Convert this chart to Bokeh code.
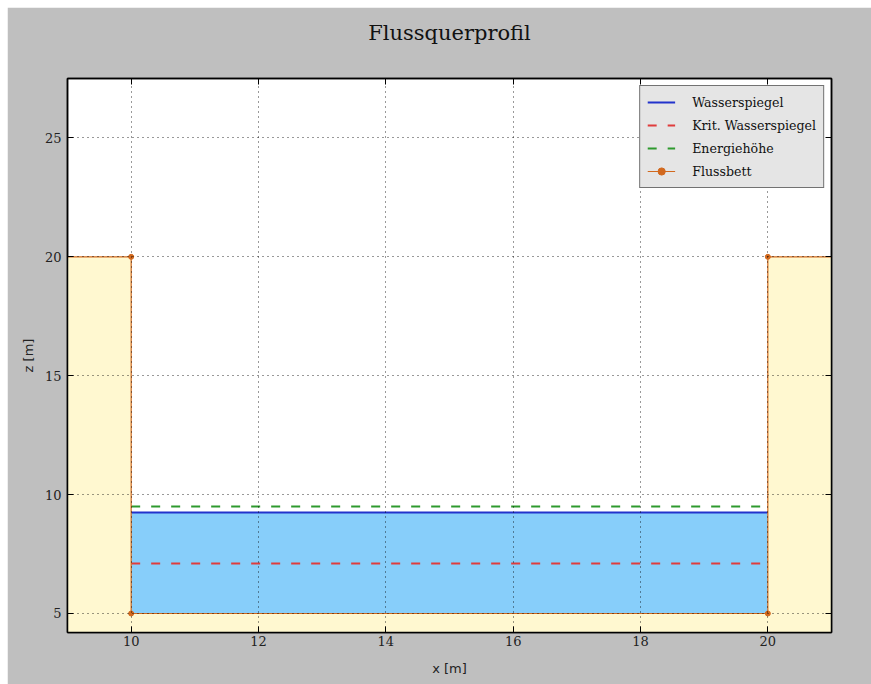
from bokeh.plotting import figure
from bokeh.models import Range1d, LinearAxis, FixedTicker, Legend, LegendItem
from bokeh.embed import file_html
from bokeh.resources import INLINE

# data
bed_x = [9, 10, 10, 20, 20, 21]
bed_z = [20, 20, 5, 5, 20, 20]
bed_marker_x = [10, 10, 20, 20]
bed_marker_z = [20, 5, 5, 20]
channel_x = [10, 20]
channel_bottom = 5
water_level = 9.25
crit_level = 7.1
energy_level = 9.5
x_ticks = [10, 12, 14, 16, 18, 20]
y_ticks = [5, 10, 15, 20, 25]
x_lim = (9, 21)
y_lim = (4.2, 27.5)
title_text = "Flussquerprofil"

p = figure(width=864, height=677, output_backend="svg", toolbar_location=None,
           x_range=Range1d(*x_lim), y_range=Range1d(*y_lim),
           min_border_left=60, min_border_right=40, min_border_top=71, min_border_bottom=52)
p.margin = (7, 0, 0, 7)

p.background_fill_color = "white"
p.border_fill_color = "#bfbfbf"
p.outline_line_color = "black"
p.outline_line_width = 1.5

# fills
p.varea(x=bed_x, y1=[y_lim[0]] * len(bed_x), y2=bed_z, fill_color="#fff8d0", fill_alpha=1.0)
p.varea(x=channel_x, y1=[channel_bottom] * 2, y2=[water_level] * 2, fill_color="#87cefa", fill_alpha=1.0)

# lines
r_w = p.line(channel_x, [water_level] * 2, line_color="#2233cc", line_width=2)
r_c = p.line(channel_x, [crit_level] * 2, line_color="#e03c3c", line_width=2, line_dash="9 11")
r_e = p.line(channel_x, [energy_level] * 2, line_color="#2e9a2e", line_width=2, line_dash="9 11")
r_b = p.line(bed_x, bed_z, line_color="#d2691e", line_width=1.2)
r_bm = p.scatter(bed_marker_x, bed_marker_z, marker="circle", size=5, fill_color="#d2691e", line_color="#d2691e")

# grid above fills
for g in (p.xgrid, p.ygrid):
    g.level = "guide"
    g.grid_line_color = "black"
    g.grid_line_dash = "1 4"
    g.grid_line_width = 1
    g.grid_line_alpha = 0.8
p.xgrid.ticker = FixedTicker(ticks=x_ticks)
p.ygrid.ticker = FixedTicker(ticks=y_ticks)

def style_axis(ax):
    ax.major_tick_in = 6
    ax.major_tick_out = 0
    ax.minor_tick_line_color = None
    ax.axis_line_color = "black"
    ax.axis_line_width = 1.5
    ax.major_tick_line_color = "black"
    ax.major_tick_line_width = 1
    ax.major_label_text_font = "DejaVu Serif"
    ax.major_label_text_font_size = "13px"
    ax.major_label_text_color = "#222222"
    ax.major_label_standoff = 6

p.xaxis.ticker = FixedTicker(ticks=x_ticks)
p.yaxis.ticker = FixedTicker(ticks=y_ticks)
style_axis(p.xaxis[0])
style_axis(p.yaxis[0])
p.xaxis.major_label_standoff = 3
p.xaxis.axis_label = "x [m]"
p.yaxis.axis_label = "z [m]"
for ax in (p.xaxis[0], p.yaxis[0]):
    ax.axis_label_text_font = "DejaVu Sans"
    ax.axis_label_text_font_size = "13px"
    ax.axis_label_text_font_style = "normal"
    ax.axis_label_text_color = "#222222"
p.xaxis.axis_label_standoff = 12
p.yaxis.axis_label_standoff = 6

# top axis carries the chart title as its axis label
top_ax = LinearAxis(ticker=FixedTicker(ticks=x_ticks),
                    major_label_overrides={t: "" for t in x_ticks})
right_ax = LinearAxis(ticker=FixedTicker(ticks=y_ticks),
                      major_label_overrides={t: "" for t in y_ticks})
style_axis(top_ax)
style_axis(right_ax)
top_ax.axis_label = title_text
top_ax.axis_label_text_font = "DejaVu Serif"
top_ax.axis_label_text_font_size = "21px"
top_ax.axis_label_text_font_style = "normal"
top_ax.axis_label_text_color = "#111111"
top_ax.axis_label_standoff = 34
p.add_layout(top_ax, "above")
p.add_layout(right_ax, "right")

legend = Legend(items=[
    LegendItem(label="Wasserspiegel", renderers=[r_w]),
    LegendItem(label="Krit. Wasserspiegel", renderers=[r_c]),
    LegendItem(label="Energiehöhe", renderers=[r_e]),
    LegendItem(label="Flussbett", renderers=[r_b, r_bm]),
], location="top_right")
legend.margin = 7
legend.padding = 7
legend.spacing = 5
legend.glyph_width = 28
legend.glyph_height = 18
legend.label_height = 18
legend.label_standoff = 17
legend.label_text_font = "DejaVu Serif"
legend.label_text_font_size = "12.6px"
legend.label_text_color = "#111111"
legend.background_fill_color = "#e5e5e5"
legend.background_fill_alpha = 1.0
legend.border_line_color = "black"
legend.border_line_width = 1.5
p.add_layout(legend, "center")

open("out.html", "w").write(file_html(p, INLINE))
